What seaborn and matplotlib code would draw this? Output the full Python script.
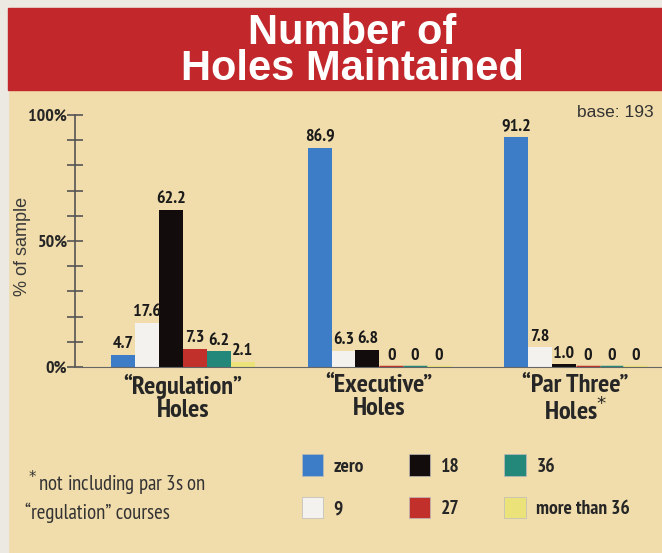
import pandas as pd
import numpy as np
import seaborn as sb
import matplotlib.pyplot as plt
from matplotlib.patches import Rectangle

# 数据
groups = ["Regulation", "Executive", "Par Three"]
group_labels = ["\u201cRegulation\u201d\nHoles", "\u201cExecutive\u201d\nHoles", "\u201cPar Three\u201d\nHoles$^{*}$"]
holes = ["zero", "9", "18", "27", "36", "more than 36"]
regulation = [4.7, 17.6, 62.2, 7.3, 6.2, 2.1]
executive = [86.9, 6.3, 6.8, 0, 0, 0]
par_three = [91.2, 7.8, 1.0, 0, 0, 0]
bar_colors = ["#3d7cc6", "#f3f2ee", "#120c0c", "#c2302b", "#23887a", "#ece27a"]

rows = []
for g, vals in zip(groups, [regulation, executive, par_three]):
    for h, v in zip(holes, vals):
        rows.append({"group": g, "holes": h, "pct": v})
df = pd.DataFrame(rows)

W, H = 662, 553
bg = "#f1dcab"
narrow = ["PT Sans Narrow", "DejaVu Sans"]
plain = ["Liberation Sans", "DejaVu Sans"]
cond = dict(family=narrow, fontstretch="condensed")

sb.set_style("white")
plt.rcParams["font.family"] = plain
plt.rcParams["mathtext.fontset"] = "dejavusans"

fig = plt.figure(figsize=(W / 100, H / 100), dpi=100, facecolor=bg)
# 页面边缘和标题栏
fig.patches.append(Rectangle((0, 0), 8 / W, 1, transform=fig.transFigure, color="#ebe9e2", zorder=0))
fig.patches.append(Rectangle((0, 1 - 8 / H), 1, 8 / H, transform=fig.transFigure, color="#ebe9e2", zorder=0))
fig.patches.append(Rectangle((8 / W, 1 - 90 / H), 1, 82 / H, transform=fig.transFigure, color="#c1272b", zorder=0))
fig.text(352 / W, 1 - 51 / H, "Number of\nHoles Maintained", color="white", fontsize=30, fontweight="bold",
         ha="center", va="center", family=plain, linespacing=0.86)

ax = fig.add_axes([75 / W, 1 - 367 / H, (W - 75) / W, 252 / H])
ax.set_facecolor(bg)
sb.barplot(data=df, x="group", y="pct", hue="holes", hue_order=holes, palette=bar_colors,
           width=0.73, gap=0, saturation=1, ax=ax, legend=True, edgecolor="none")

for cont in ax.containers:
    labs = []
    for bar in cont:
        h = bar.get_height()
        if h == 0:
            bar.set_edgecolor(bar.get_facecolor())
            bar.set_linewidth(2.5)
        labs.append("0" if h == 0 else f"{h:.1f}")
    ax.bar_label(cont, labels=labs, padding=2, fontsize=13, fontweight="bold",
                 color="#1a1a1a", **cond)

ax.set_xlim(-0.55, 2.44)
ax.set_ylim(0, 100)
ax.set_yticks([0, 50, 100])
ax.set_yticklabels(["0%", "50%", "100%"], fontsize=13, fontweight="bold", **cond)
ax.set_yticks(np.arange(0, 101, 10), minor=True)
ax.tick_params(axis="y", which="both", direction="inout", length=12, width=1.2, color="#555", pad=0, left=True)
ax.tick_params(axis="x", length=0, pad=5)
ax.set_xticks(range(3))
ax.set_xticklabels(group_labels, fontsize=19, fontweight="bold", linespacing=1.0, **cond)
for s in ["top", "right"]:
    ax.spines[s].set_visible(False)
ax.spines["left"].set_color("#555")
ax.spines["bottom"].set_color("#666")
ax.spines["left"].set_linewidth(1.2)
ax.set_xlabel("")
ax.set_ylabel("")
fig.text(23 / W, 1 - 246 / H, "% of sample", rotation=90, fontsize=13, color="#3a3a3a",
         ha="center", va="center", zorder=5)

ax.text(0.985, 1.01, "base: 193", transform=ax.transAxes, ha="right", va="center", fontsize=12.5, color="#333")

handles, labels = ax.get_legend_handles_labels()
ax.get_legend().remove()
for hd in handles:
    hd.set_edgecolor("#bbb")
    hd.set_linewidth(0.5)
fig.legend(handles, labels, ncol=3, loc="upper left", bbox_to_anchor=(284 / W, 1 - 437 / H),
           frameon=False, handlelength=1.1, handleheight=1.3, labelspacing=1.1, columnspacing=2.3,
           handletextpad=0.55, prop={"family": narrow, "weight": "bold", "size": 14, "stretch": "condensed"})

fig.text(25 / W, 1 - 496 / H, "$^*$not including par 3s on\n\u201cregulation\u201d courses", fontsize=15,
         color="#333", ha="left", va="center", linespacing=1.25, **cond)

fig.savefig("out.png", dpi=100, facecolor=bg)
